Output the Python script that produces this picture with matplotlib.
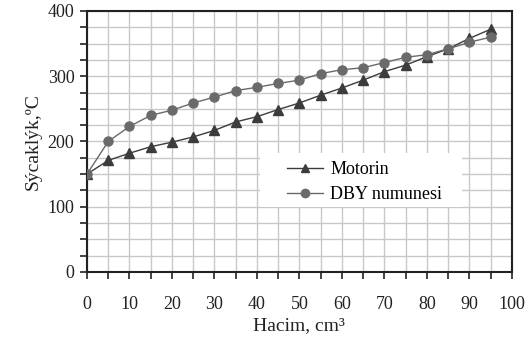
import matplotlib
matplotlib.use("Agg")
import matplotlib.pyplot as plt
from matplotlib.ticker import MultipleLocator
from matplotlib.patches import Rectangle

hacim = [0, 5, 10, 15, 20, 25, 30, 35, 40, 45, 50, 55, 60, 65, 70, 75, 80, 85, 90, 95]
motorin = [150, 171, 182, 192, 199, 207, 217, 230, 238, 249, 259, 271, 282, 294, 307, 317, 330, 342, 358, 372]
dby = [150, 200, 223, 240, 248, 259, 268, 278, 283, 289, 294, 304, 310, 313, 321, 329, 333, 342, 352, 360]

x_ticks = [0, 10, 20, 30, 40, 50, 60, 70, 80, 90, 100]
y_ticks = [0, 100, 200, 300, 400]

plt.rcParams['font.family'] = ['Liberation Serif', 'DejaVu Serif']

fig = plt.figure(figsize=(5.31, 3.52), dpi=100)
ax = fig.add_axes([0.1638, 0.2273, 0.964 - 0.1638, 0.9688 - 0.2273])

ax.plot(hacim, motorin, color='#3c3c3c', marker='^', markersize=6.5, linewidth=1.0, label='Motorin', zorder=3)
ax.plot(hacim, dby, color='#6a6a6a', marker='o', markersize=6.5, linewidth=1.0, label='DBY numunesi', zorder=3)

ax.set_xlim(0, 100)
ax.set_ylim(0, 400)
ax.set_xticks(x_ticks)
ax.set_yticks(y_ticks)
ax.xaxis.set_minor_locator(MultipleLocator(5))
ax.yaxis.set_minor_locator(MultipleLocator(25))
ax.grid(True, which='both', color='#c8c8c8', linewidth=1.0, zorder=0)
ax.set_axisbelow(True)

for s in ax.spines.values():
    s.set_color('#222222')
    s.set_linewidth(1.5)

ax.tick_params(axis='both', which='both', direction='out', color='#222222', width=1.2, labelsize=13, labelcolor='#222222')
ax.tick_params(axis='both', which='major', length=5)
ax.tick_params(axis='both', which='minor', length=5)
ax.tick_params(axis='x', pad=12)
ax.tick_params(axis='y', pad=4)

ax.set_xlabel('Hacim, cm³', fontsize=14, color='#222222', labelpad=3)
ax.set_ylabel('Sýcaklýk,ºC', fontsize=14, color='#222222', labelpad=4)

# white legend background box
ax.add_patch(Rectangle((0.407, 0.456 - 0.207), 0.475, 0.207, transform=ax.transAxes,
                       facecolor='white', edgecolor='none', zorder=2.5))

leg = ax.legend(loc='upper left', bbox_to_anchor=(0.47, 0.425), frameon=False, fontsize=13,
                handlelength=2.0, handletextpad=0.4, borderpad=0.0, labelspacing=0.45,
                borderaxespad=0)
leg.set_zorder(4)
for h in leg.legend_handles:
    h.set_markersize(6)

fig.savefig('out.png', dpi=100)
